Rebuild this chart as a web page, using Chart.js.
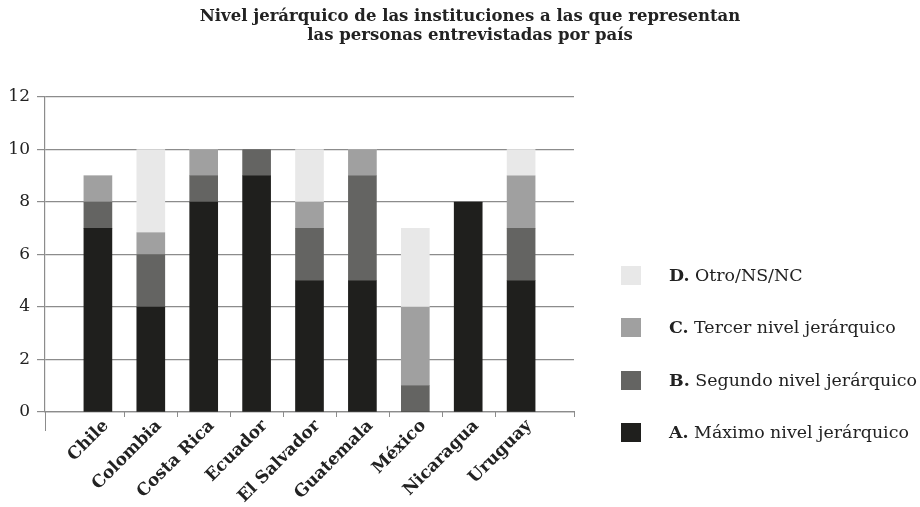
<!DOCTYPE html>
<html>
<head>
<meta charset="utf-8">
<script src="https://cdn.jsdelivr.net/npm/chart.js@4.4.0/dist/chart.umd.min.js"></script>
<style>
  html, body { margin: 0; padding: 0; background: #fff; }
  #wrap { position: relative; width: 920px; height: 507px; }
  #legend { position: absolute; left: 621px; top: 266px; font-family: "DejaVu Serif", serif; font-size: 17.4px; color: #222; }
  .item { position: relative; height: 52.3px; }
  .box { position: absolute; left: 0; top: 0; width: 20px; height: 19px; }
  .lbl { position: absolute; left: 48px; top: 0; line-height: 19px; white-space: nowrap; }
</style>
</head>
<body>
<div id="wrap">
  <canvas id="chart" width="920" height="507"></canvas>
  <div id="legend"></div>
</div>
<script>
// data
const countries = ['Chile', 'Colombia', 'Costa Rica', 'Ecuador', 'El Salvador', 'Guatemala', 'México', 'Nicaragua', 'Uruguay'];
const maximo  = [7, 4, 8, 9, 5, 5, 0, 8, 5];
const segundo = [1, 2, 1, 1, 2, 4, 1, 0, 2];
const tercer  = [1, 0.83, 1, 0, 1, 1, 3, 0, 2];
const otro    = [0, 3.17, 0, 0, 2, 0, 3, 0, 1];
const yTicks = [0, 2, 4, 6, 8, 10, 12];

const seriesKeys = ['A.', 'B.', 'C.', 'D.'];
const seriesNames = ['Máximo nivel jerárquico', 'Segundo nivel jerárquico', 'Tercer nivel jerárquico', 'Otro/NS/NC'];
const seriesColors = ['#1f1f1d', '#646462', '#a0a0a0', '#e8e8e8'];
const seriesValues = [maximo, segundo, tercer, otro];

const FONT = '"DejaVu Serif", serif';

const datasets = seriesValues.map((vals, k) => ({
    label: seriesKeys[k] + ' ' + seriesNames[k],
    data: vals.map((v, i) => ({ x: i, y: v })),
    backgroundColor: seriesColors[k],
    borderWidth: 0,
    barThickness: 28
}));

// small tick marks on the category axis (between countries)
const xTickMarks = {
    id: 'xTickMarks',
    afterDraw(chart) {
        const ctx = chart.ctx;
        const xs = chart.scales.x;
        const y0 = chart.scales.y.getPixelForValue(0);
        ctx.save();
        ctx.strokeStyle = '#8c8c8c';
        ctx.lineWidth = 1;
        const marks = [];
        for (let i = 0; i < countries.length - 1; i++) marks.push(i + 0.5);
        marks.push(xs.max);
        ctx.beginPath();
        marks.forEach(m => {
            const px = Math.round(xs.getPixelForValue(m)) + 0.5;
            ctx.moveTo(px, y0);
            ctx.lineTo(px, y0 + 5);
        });
        const lx = Math.round(xs.getPixelForValue(xs.min)) + 0.5;
        ctx.moveTo(lx, y0);
        ctx.lineTo(lx, y0 + 19);
        ctx.stroke();
        ctx.restore();
    }
};

new Chart(document.getElementById('chart').getContext('2d'), {
    type: 'bar',
    data: { datasets },
    plugins: [xTickMarks],
    options: {
        responsive: false,
        animation: false,
        // negative right padding only shifts the title centre to the right
        layout: { padding: { left: 0, right: -20, top: 0, bottom: 0 } },
        plugins: {
            legend: { display: false },
            tooltip: { enabled: false },
            title: {
                display: true,
                text: ['Nivel jerárquico de las instituciones a las que representan', 'las personas entrevistadas por país'],
                font: { family: FONT, size: 16.5, weight: 'bold', lineHeight: 1.1 },
                color: '#222',
                padding: { top: 8, bottom: 52.7 }
            }
        },
        scales: {
            x: {
                type: 'linear',
                stacked: true,
                offset: false,
                min: -1,
                max: countries.length,
                grid: { display: false, drawTicks: false },
                border: { display: true, color: '#8c8c8c', width: 1.2 },
                afterBuildTicks(scale) {
                    const t = [];
                    for (let v = -1; v <= countries.length; v++) t.push({ value: v });
                    scale.ticks = t;
                },
                ticks: {
                    autoSkip: false,
                    minRotation: 45,
                    maxRotation: 45,
                    padding: 4,
                    labelOffset: 8,
                    color: '#222',
                    font: { family: FONT, size: 17, weight: 'bold' },
                    callback: (v) => countries[v] || ''
                },
                afterFit(scale) { scale.height = 95; }
            },
            y: {
                stacked: true,
                min: 0,
                max: 12,
                afterBuildTicks(scale) {
                    scale.ticks = yTicks.map(v => ({ value: v }));
                },
                grid: { color: '#8c8c8c', lineWidth: 1.2, tickLength: 8 },
                border: { display: true, color: '#8c8c8c', width: 1.2 },
                ticks: {
                    padding: 7,
                    color: '#222',
                    font: { family: FONT, size: 17 }
                },
                afterFit(scale) { scale.width = 45; }
            },
            // empty box on the right that leaves room for the legend
            legendSpace: {
                type: 'linear',
                position: 'right',
                display: true,
                grid: { display: false },
                border: { display: false },
                ticks: { display: false },
                afterFit(scale) { scale.width = 366; }
            }
        }
    }
});

// legend, top to bottom in reverse order like the reference
const legend = document.getElementById('legend');
for (let k = seriesKeys.length - 1; k >= 0; k--) {
    const item = document.createElement('div');
    item.className = 'item';
    item.innerHTML = '<div class="box" style="background:' + seriesColors[k] + '"></div>' +
        '<div class="lbl"><b>' + seriesKeys[k] + '</b> ' + seriesNames[k] + '</div>';
    legend.appendChild(item);
}
</script>
</body>
</html>
